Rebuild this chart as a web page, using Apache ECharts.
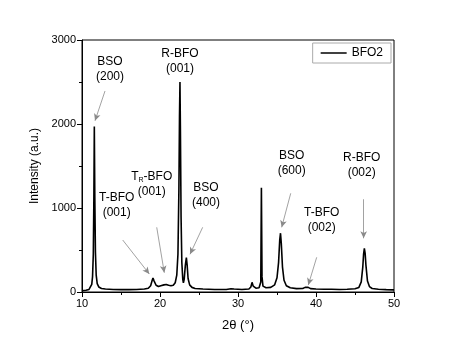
<!DOCTYPE html>
<html><head><meta charset="utf-8">
<script src="https://cdn.jsdelivr.net/npm/echarts@6/dist/echarts.min.js"></script>
<style>html,body{margin:0;padding:0;background:#fff}#c{width:458px;height:350px}</style>
</head><body><div id="c"></div>
<script>
const seriesName = 'BFO2';
const twoTheta = [10.0,10.5,10.9,11.1,11.25,11.35,11.45,11.52,11.58,11.64,11.72,11.82,11.95,12.15,12.5,13,14,15,16,17,18,18.5,18.8,19.0,19.1,19.25,19.5,19.8,20.1,20.5,20.8,21.1,21.4,21.7,21.95,22.15,22.3,22.42,22.5,22.56,22.62,22.7,22.8,22.92,23.0,23.1,23.25,23.38,23.48,23.6,23.8,24.1,24.5,25.5,27,28.5,29.1,29.3,29.5,30.5,31.4,31.65,31.8,31.95,32.3,32.7,32.92,33.0,33.08,33.2,33.6,34.2,34.7,35.0,35.2,35.35,35.45,35.55,35.7,35.9,36.2,36.7,37.5,38.3,38.6,38.8,39.0,39.3,40,41,42,43,44,45,45.5,45.8,46.0,46.1,46.2,46.3,46.4,46.6,46.85,47.2,48,49,50];
const intensity = [15,20,30,50,90,180,450,1100,1970,1150,480,200,100,60,42,35,30,28,28,30,35,45,75,140,165,130,80,65,75,85,90,80,75,80,110,200,450,1200,2100,2500,1900,900,350,150,110,150,320,410,320,160,85,55,42,35,30,30,38,55,35,30,35,60,115,70,45,50,120,1240,180,70,50,55,85,170,350,620,700,580,300,140,75,50,40,42,55,68,55,40,35,32,32,30,32,38,55,120,300,450,520,460,320,130,65,42,32,28,25];
const xTicks = [10,20,30,40,50];
const yTicks = [0,1000,2000,3000];

const points = twoTheta.map((x,i)=>[x,intensity[i]]);

// annotation labels: [2θ, intensity, text]
const labels = [
  [13.59, 2655, 'BSO\n(200)'],
  [22.56, 2744, 'R-BFO\n(001)'],
  [14.45, 1036, 'T-BFO\n(001)'],
  [18.94, 1286, '{t|T}{s|R}{t|-BFO}\n{t|(001)}'],
  [25.9, 1155, 'BSO\n(400)'],
  [36.88, 1536, 'BSO\n(600)'],
  [45.86, 1512, 'R-BFO\n(002)'],
  [40.73, 851, 'T-BFO\n(002)']
];
// arrows: [from 2θ, from I, to 2θ, to I]
const arrows = [
  [12.95, 2393, 11.67, 2039],
  [15.22, 619, 18.63, 214],
  [19.58, 770, 20.55, 230],
  [25.47, 770, 23.85, 449],
  [36.76, 1175, 35.6, 770],
  [40.09, 413, 39.01, 83],
  [46.11, 1104, 46.11, 639]
];

const chart = echarts.init(document.getElementById('c'), null, {renderer:'canvas'});
const font = 'Liberation Sans, Arial, sans-serif';
chart.setOption({
  animation:false,
  textStyle:{fontFamily:font},
  grid:{left:82,right:64,top:40,bottom:58,show:true,borderColor:'#000',borderWidth:1},
  legend:{
    right:67, top:43, orient:'horizontal',
    borderColor:'#aaa', borderWidth:1, padding:[4,8,4,8],
    itemWidth:26, itemHeight:1.5, itemGap:5,
    textStyle:{fontSize:12,color:'#000',fontFamily:font},
    data:[{name:seriesName, icon:'rect', itemStyle:{color:'#000'}}]
  },
  xAxis:{
    type:'value', min:10, max:50, interval:10,
    name:'2θ (°)', nameLocation:'middle', nameGap:27,
    nameTextStyle:{fontSize:13,color:'#000',fontFamily:font},
    axisLine:{lineStyle:{color:'#000',width:1}},
    axisTick:{show:true,length:5,inside:false,lineStyle:{color:'#000'}},
    minorTick:{show:true,splitNumber:2,length:3,lineStyle:{color:'#000'}},
    axisLabel:{fontSize:11,color:'#000',margin:6,fontFamily:font},
    splitLine:{show:false}
  },
  yAxis:{
    type:'value', min:0, max:3000, interval:1000,
    name:'Intensity (a.u.)', nameLocation:'middle', nameGap:37,
    nameTextStyle:{fontSize:12,color:'#000',fontFamily:font},
    axisLine:{show:true,lineStyle:{color:'#000',width:1}},
    axisTick:{show:true,length:5,inside:false,lineStyle:{color:'#000'}},
    minorTick:{show:true,splitNumber:2,length:3,lineStyle:{color:'#000'}},
    axisLabel:{fontSize:11,color:'#000',margin:6,fontFamily:font,formatter:v=>String(v)},
    splitLine:{show:false}
  },
  series:[{
    name:seriesName, type:'line', data:points, symbol:'none',
    lineStyle:{color:'#000',width:1.6}, itemStyle:{color:'#000'},
    markPoint:{
      symbol:'circle', symbolSize:0, silent:true,
      label:{show:true,position:'inside',color:'#000',fontSize:12,lineHeight:15,fontFamily:font,
        rich:{t:{fontSize:12,color:'#000',fontFamily:font,lineHeight:15},s:{fontSize:7,color:'#000',fontFamily:font,verticalAlign:'bottom',padding:[6,0,0,0]}}},
      data:labels.map(l=>({coord:[l[0],l[1]],value:l[2],label:{formatter:l[2]}}))
    },
    markLine:{
      silent:true, symbol:['none','arrow'], symbolSize:[5,7],
      lineStyle:{color:'#8a8a8a',width:0.8,type:'solid'},
      label:{show:false},
      data:arrows.map(a=>[{coord:[a[0],a[1]]},{coord:[a[2],a[3]]}])
    }
  }]
});
</script></body></html>
